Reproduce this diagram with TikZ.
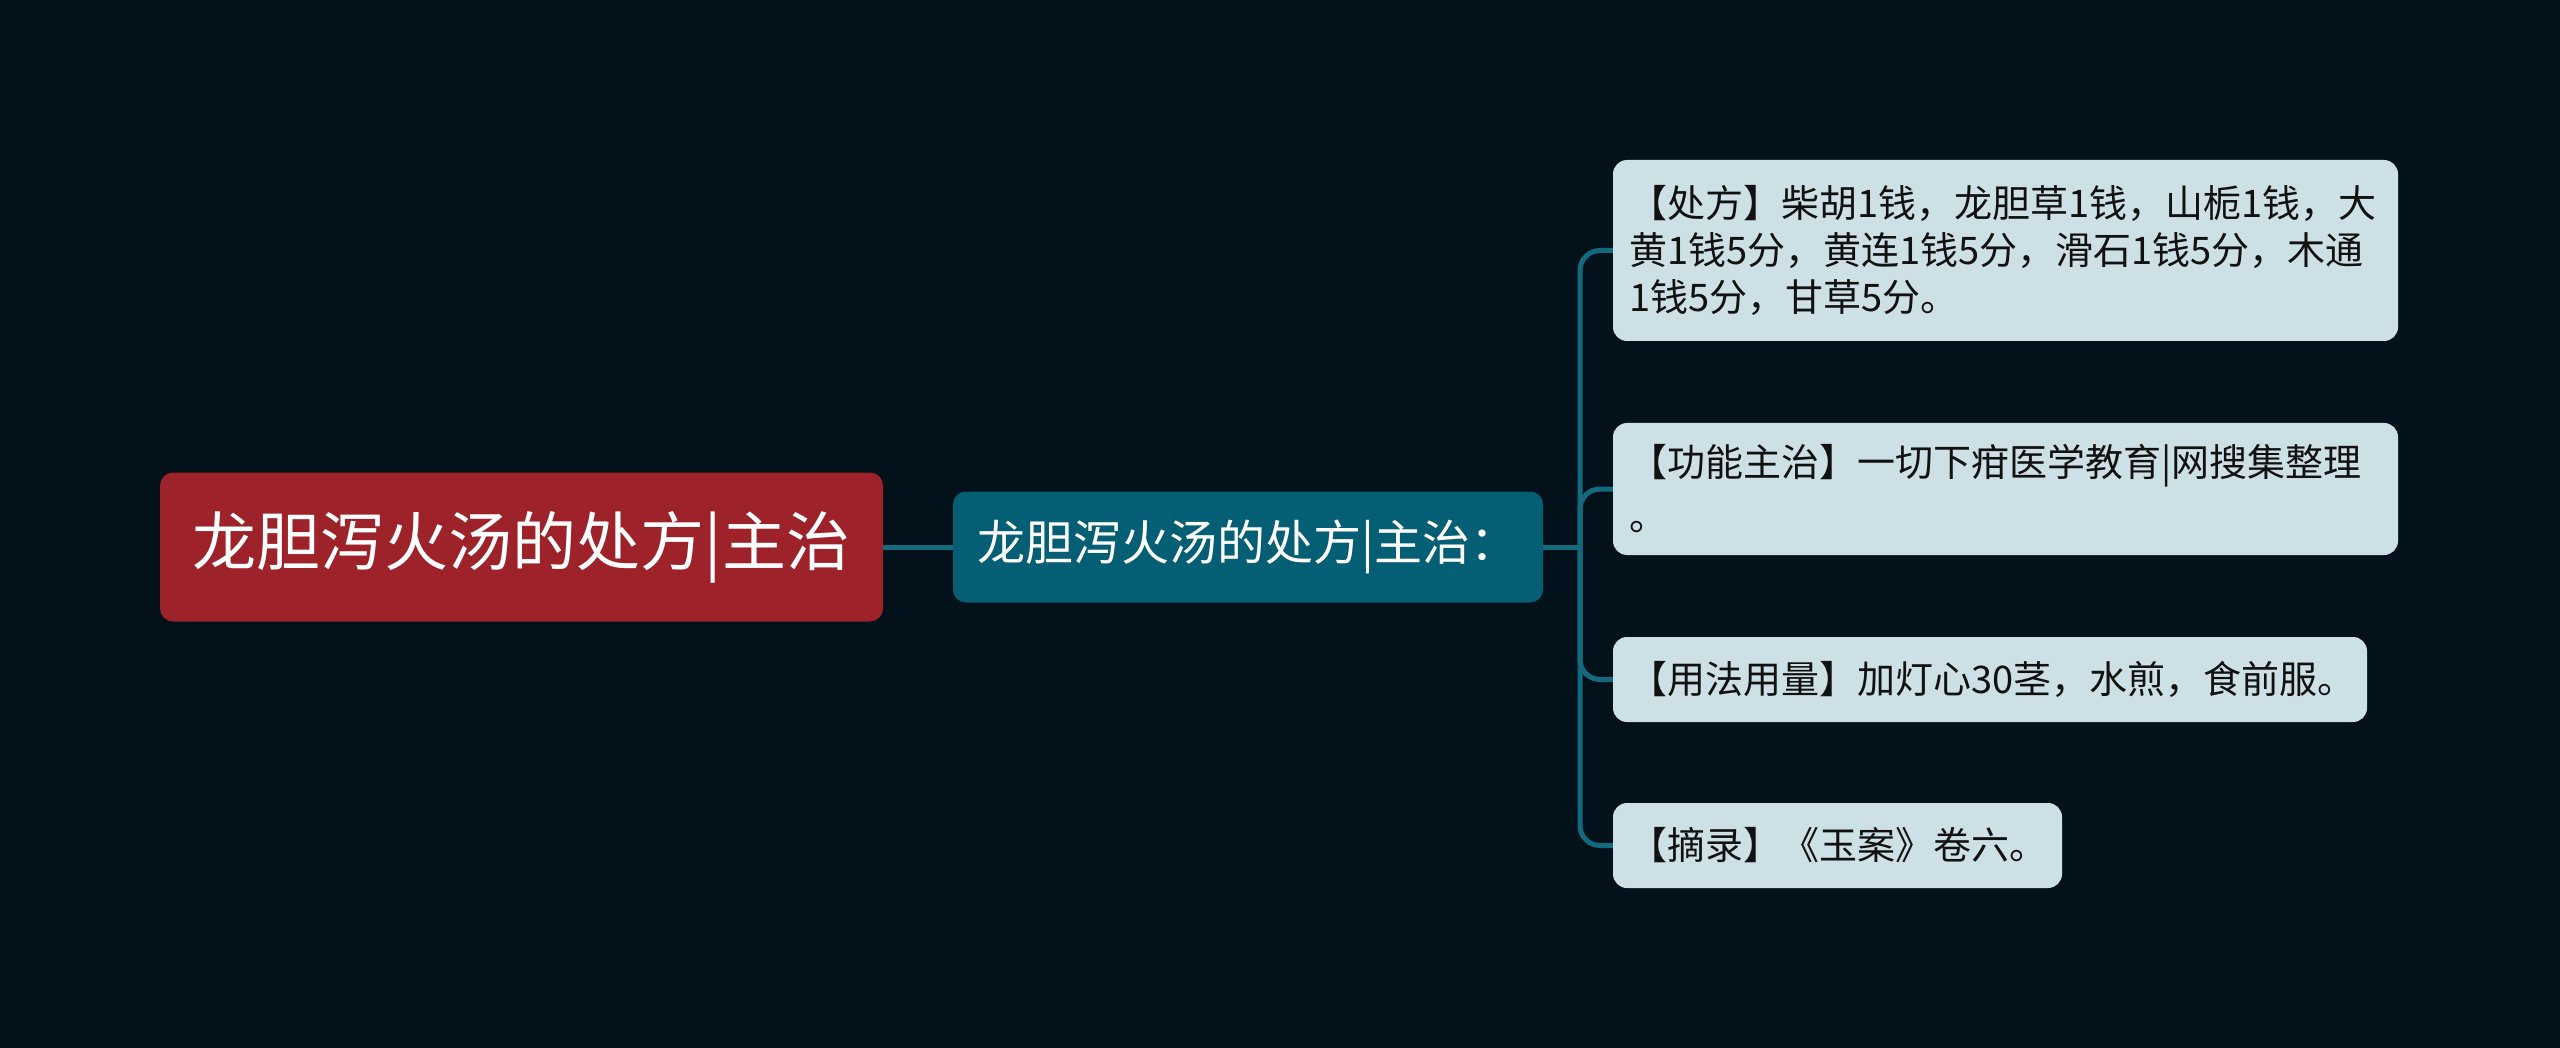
\documentclass[tikz,border=0pt]{standalone}
\usepackage{fontspec}
\newfontfamily\cjk{Noto Sans CJK SC}
\definecolor{bgc}{HTML}{03111A}
\definecolor{rootc}{HTML}{9E2229}
\definecolor{midc}{HTML}{045F74}
\definecolor{linec}{HTML}{136A7D}
\definecolor{leafc}{HTML}{CDE0E6}
\definecolor{leaftext}{HTML}{111111}
\tikzset{
  rootbox/.style={fill=rootc, rounded corners=13pt, text=white, minimum width=723pt, minimum height=149pt, inner sep=0pt, font=\cjk\fontsize{64}{77}\selectfont},
  midbox/.style={fill=midc, rounded corners=13pt, text=white, minimum width=590pt, minimum height=111pt, inner sep=0pt, font=\cjk\fontsize{48}{58}\selectfont},
  leafbox/.style={fill=leafc, rounded corners=14pt, text=leaftext, inner xsep=16pt, inner ysep=0pt, align=left, font=\cjk\fontsize{38}{47}\selectfont},
  conn/.style={draw=linec, line width=5pt},
}
\begin{document}
\begin{tikzpicture}[x=1pt,y=-1pt]
\fill[bgc] (0,0) rectangle (2560,1048);
\useasboundingbox (0,0) rectangle (2560,1048);
\node[rootbox] (root) at (521.5,547) {龙胆泻火汤的处方|主治};
\node[midbox] (mid) at (1248,547) {龙胆泻火汤的处方|主治：\hspace{14pt}};
\node[leafbox, text width=753pt, minimum height=181pt] (l1) at (2005.5,250.5) {【处方】柴胡1钱，龙胆草1钱，山栀1钱，大\\黄1钱5分，黄连1钱5分，滑石1钱5分，木通\\1钱5分，甘草5分。};
\node[leafbox, text width=753pt, minimum height=132pt, font=\cjk\fontsize{38}{54}\selectfont] (l2) at (2005.5,489) {【功能主治】一切下疳医学教育|网搜集整理\\。};
\node[leafbox, text width=722pt, minimum height=85pt] (l3) at (1990,679.5) {【用法用量】加灯心30茎，水煎，食前服。};
\node[leafbox, text width=417pt, minimum height=85pt] (l4) at (1837.5,845.5) {【摘录】《玉案》卷六。};
\coordinate (j) at (1580,547);
\draw[conn] (root.east) -- (mid.west);
\draw[conn] (mid.east) -- (j);
\draw[conn, rounded corners=20pt] (j) |- (l1.west);
\draw[conn, rounded corners=20pt] (j) |- (l2.west);
\draw[conn, rounded corners=20pt] (j) |- (l3.west);
\draw[conn, rounded corners=20pt] (j) |- (l4.west);
\end{tikzpicture}
\end{document}
